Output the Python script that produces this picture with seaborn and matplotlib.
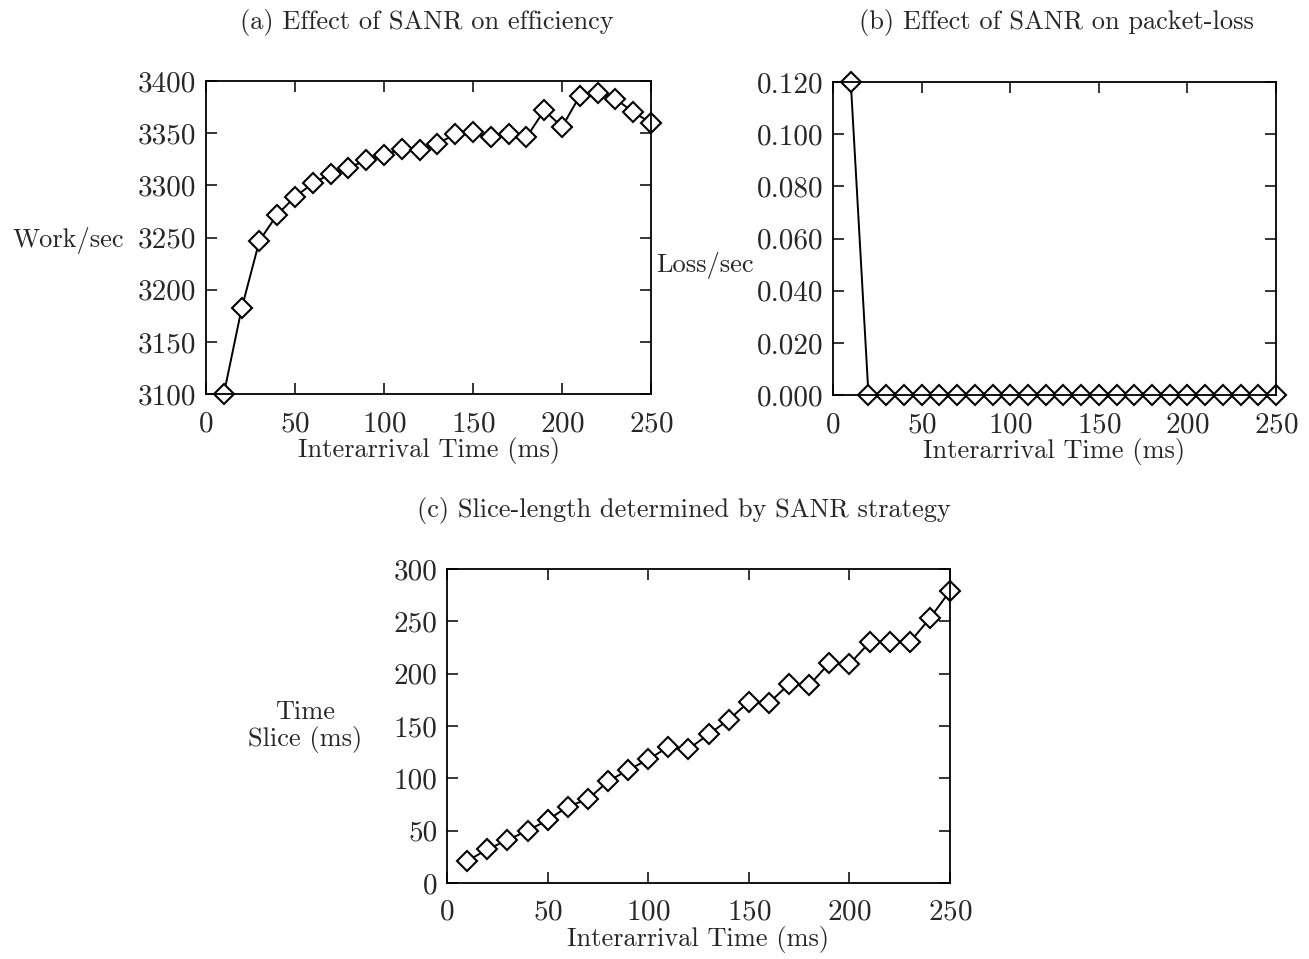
import numpy as np
import pandas as pd
import matplotlib
matplotlib.use("Agg")
import matplotlib.pyplot as plt
import seaborn as sns

# Values
interarrival = [10, 20, 30, 40, 50, 60, 70, 80, 90, 100, 110, 120, 130,
                140, 150, 160, 170, 180, 190, 200, 210, 220, 230, 240, 250]
work_per_sec = [3100, 3182, 3247, 3272, 3289, 3302, 3311, 3317, 3324, 3329,
                3335, 3334, 3340, 3349, 3351, 3346, 3349, 3346, 3372, 3356,
                3386, 3389, 3383, 3370, 3360]
loss_per_sec = [0.120] + [0.0] * 24
time_slice = [21, 32, 41, 50, 60, 73, 80, 97, 108, 118, 130, 128, 142,
              156, 173, 172, 190, 189, 210, 209, 230, 230, 230, 253, 279]


def style_axes(ax, ylim, yticks, yfmt):
    ax.set_xlim(0, 250)
    ax.set_ylim(*ylim)
    ax.set_xticks(range(0, 251, 50))
    ax.set_yticks(yticks)
    ax.set_yticklabels([yfmt.format(v) for v in yticks])
    ax.tick_params(direction="in", length=8, width=1.3, top=True, right=True,
                   labelsize=21, pad=7)
    ax.tick_params(axis="x", pad=12)
    for sp in ax.spines.values():
        sp.set_linewidth(1.3)
        sp.set_color("black")
    ax.set_xlabel("Interarrival Time (ms)", fontsize=19, labelpad=0)
    if ax.get_legend():
        ax.get_legend().remove()


def draw(ax, y):
    df = pd.DataFrame({"x": interarrival, "y": y})
    sns.lineplot(data=df, x="x", y="y", ax=ax, color="black", linewidth=1.4,
                 marker="D", markersize=10, markerfacecolor="white",
                 markeredgecolor="black", markeredgewidth=1.5, clip_on=False)


sns.set_theme(style="ticks")
plt.rcParams["font.family"] = ["cmr10", "DejaVu Serif"]
plt.rcParams["axes.formatter.use_mathtext"] = True

fig = plt.figure(figsize=(13.09, 9.59), dpi=100)

ax1 = fig.add_axes([0.1574, 0.5891, 0.340, 0.3264])
draw(ax1, work_per_sec)
style_axes(ax1, (3100, 3400), list(range(3100, 3401, 50)), "{:d}")
ax1.set_ylabel("Work/sec", fontsize=19, rotation=0, ha="right", va="center")
ax1.yaxis.set_label_coords(-0.185, 0.492)

ax2 = fig.add_axes([0.6364, 0.5881, 0.3384, 0.3264])
draw(ax2, loss_per_sec)
style_axes(ax2, (0, 0.12), [0.0, 0.02, 0.04, 0.06, 0.08, 0.10, 0.12], "{:.3f}")
ax2.set_ylabel("Loss/sec", fontsize=19, rotation=0, ha="right", va="center")
ax2.yaxis.set_label_coords(-0.18, 0.415)

ax3 = fig.add_axes([0.3415, 0.0793, 0.3843, 0.3274])
draw(ax3, time_slice)
style_axes(ax3, (0, 300), list(range(0, 301, 50)), "{:d}")
ax3.set_ylabel("Time\nSlice (ms)", fontsize=19, rotation=0, ha="right",
               va="center", multialignment="center", linespacing=1.1)
ax3.yaxis.set_label_coords(-0.169, 0.497)

fig.text(427 / 1309, 1 - 22 / 959, "(a) Effect of SANR on efficiency",
         ha="center", va="center", fontsize=19)
fig.text(1056 / 1309, 1 - 22 / 959, "(b) Effect of SANR on packet-loss",
         ha="center", va="center", fontsize=19)
fig.text(684 / 1309, 1 - 510 / 959, "(c) Slice-length determined by SANR strategy",
         ha="center", va="center", fontsize=19)

fig.savefig("out.png", dpi=100, facecolor="white")
